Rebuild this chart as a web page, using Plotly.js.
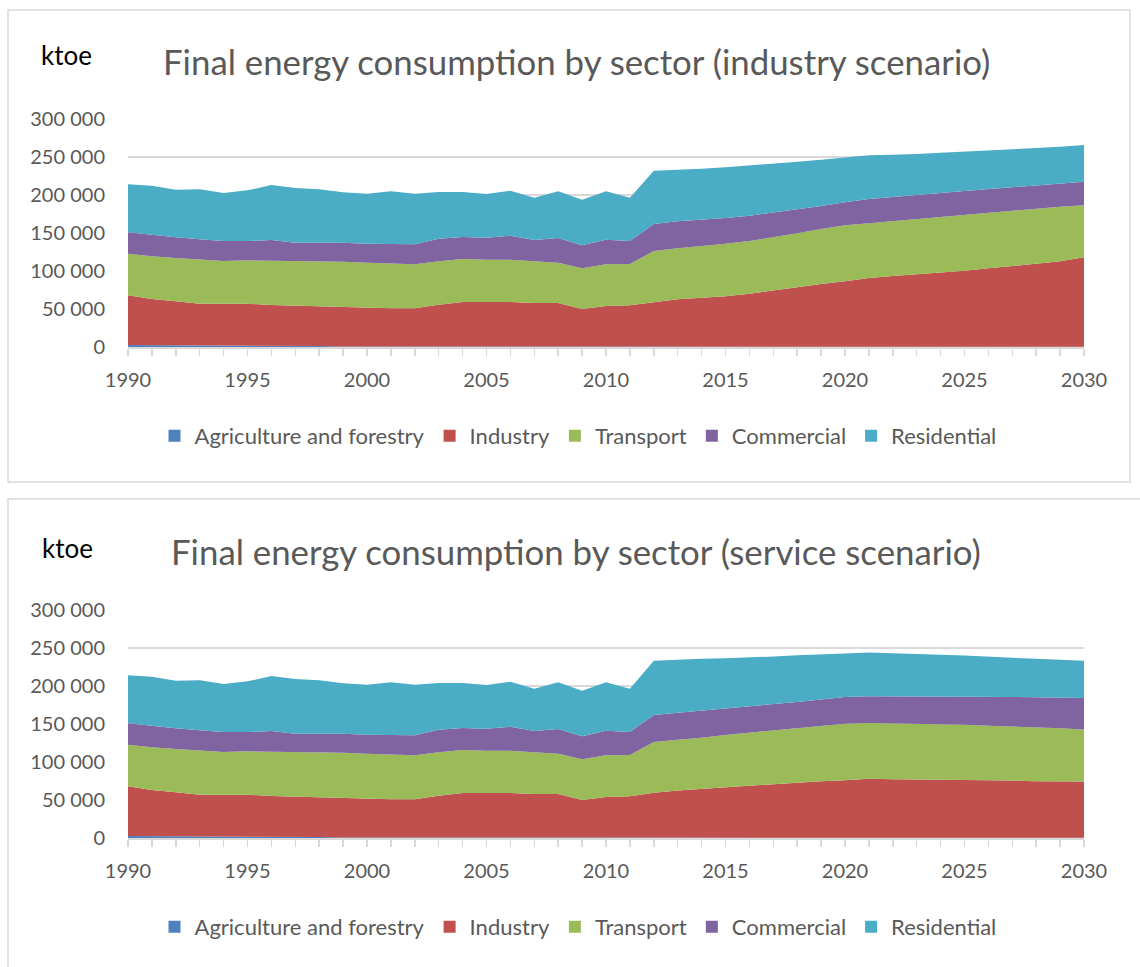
<!DOCTYPE html>
<html>
<head>
<meta charset="utf-8">
<script src="https://cdn.plot.ly/plotly-3.0.1.min.js"></script>
<style>
  html, body { margin: 0; padding: 0; background: #ffffff; }
  #chart { width: 1140px; height: 967px; }
</style>
</head>
<body>
<div id="chart"></div>
<script>
// ---- Data (ktoe) ----
const years = [1990,1991,1992,1993,1994,1995,1996,1997,1998,1999,2000,2001,2002,2003,2004,2005,2006,2007,2008,2009,2010,
               2011,2012,2013,2014,2015,2016,2017,2018,2019,2020,2021,2022,2023,2024,2025,2026,2027,2028,2029,2030];
const sectors = ["Agriculture and forestry", "Industry", "Transport", "Commercial", "Residential"];
const colors = ["#4F81BD", "#C0504D", "#9BBB59", "#8064A2", "#4BACC6"];

// Historical values 1990-2011 (shared by both scenarios)
const agriHist = [2600,2500,2300,1900,1800,1700,1600,1500,1300,600,500,500,500,500,500,500,500,500,500,500,500,500];
const industryHist = [65400,60700,57800,55100,55200,55300,53700,52900,52200,51200,50800,50400,50400,55200,58700,58700,58700,57400,57400,49500,53400,54300];
const transportHist = [54800,56100,57000,57900,56200,57000,58300,58300,59700,60500,59700,58800,57900,57000,56600,55700,55700,54800,53100,53500,54900,54400];
const commercialHist = [28100,28100,27200,26800,26300,25500,27200,24600,24100,25000,25000,25800,26300,29800,28900,29000,31600,28100,32400,30300,32400,30300];
const residentialHist = [63100,64900,62700,65800,63100,66600,72400,71900,70200,66200,65800,69300,66700,61500,59300,57400,59200,55700,61400,60100,63600,57000];

// Industry scenario projections 2012-2030
const agriInd = [900,900,800,400,400,400,400,400,400,400,400,400,400,400,400,400,400,400,400];
const industryInd = [58300,61800,64100,66300,69800,74200,78100,82500,86000,90400,93000,95200,97800,100000,103100,106200,108800,112300,117600];
const transportInd = [67100,67100,67600,69300,69300,69700,71100,72400,73700,71900,72000,72400,72900,73300,73300,72800,72800,71900,68400];
const commercialInd = [35500,35600,35000,33700,33300,32500,31500,30200,30200,32000,32000,31600,31500,31600,31100,31100,30700,30300,31100];
const residentialInd = [70200,68400,67200,66700,65800,64400,62800,61000,59300,57500,55700,54300,53100,51700,50400,49600,49100,48700,48300];

// Service scenario projections 2012-2030
const agriSrv = [900,900,800,400,400,400,400,400,400,400,400,400,400,400,400,400,400,400,400];
const industrySrv = [58500,61600,63900,66000,68200,70400,72200,74400,75700,77400,77000,76600,76600,76600,76100,75200,74400,74400,73900];
const transportSrv = [66800,66800,67200,69100,69900,70800,72100,73000,74300,73500,73500,73000,72500,72100,71300,71300,70800,69500,68600];
const commercialSrv = [35600,35600,35700,34700,34800,34800,34300,34300,35200,35200,35600,36500,37000,37400,38200,38700,39600,40400,41400];
const residentialSrv = [71300,70000,68100,66400,64200,62400,61600,59300,57200,57600,56300,55400,54500,53600,52400,51000,50500,49700,48800];

const titles = ["Final energy consumption by sector (industry scenario)",
                "Final energy consumption by sector (service scenario)"];
const unitLabel = "ktoe";
const yTicks = [0, 50000, 100000, 150000, 200000, 250000, 300000];
const xTicks = [1990, 1995, 2000, 2005, 2010, 2015, 2020, 2025, 2030];

// ---- Build ----
const W = 1140, H = 967;
const px = x => x / W;
const py = y => 1 - y / H;

const industryScenario = [
  agriHist.concat(agriInd), industryHist.concat(industryInd), transportHist.concat(transportInd),
  commercialHist.concat(commercialInd), residentialHist.concat(residentialInd)];
const serviceScenario = [
  agriHist.concat(agriSrv), industryHist.concat(industrySrv), transportHist.concat(transportSrv),
  commercialHist.concat(commercialSrv), residentialHist.concat(residentialSrv)];

const traces = [];
[industryScenario, serviceScenario].forEach((scen, k) => {
  scen.forEach((vals, i) => {
    traces.push({
      type: "scatter", mode: "lines", x: years, y: vals,
      name: sectors[i], stackgroup: k === 0 ? "top" : "bottom",
      xaxis: k === 0 ? "x" : "x2", yaxis: k === 0 ? "y" : "y2",
      line: { width: 0, color: colors[i] }, fillcolor: colors[i],
      showlegend: false, hoverinfo: "x+y+name"
    });
  });
  // legend-only entries with square swatches
  sectors.forEach((s, i) => {
    traces.push({
      type: "scatter", mode: "markers", x: [null], y: [null], name: s,
      xaxis: k === 0 ? "x" : "x2", yaxis: k === 0 ? "y" : "y2",
      marker: { symbol: "square", size: 12, color: colors[i] },
      legend: k === 0 ? "legend" : "legend2", showlegend: true
    });
  });
});

const FONT = "Lato, 'Open Sans', sans-serif";
const GREY = "#595959";
const GRID = "#d9d9d9";

function xAxis(anchor) {
  return {
    domain: [px(128), px(1084)], anchor: anchor, range: [1990, 2030],
    tickmode: "array", tickvals: xTicks, ticktext: xTicks.map(String),
    ticks: "outside", ticklen: 7, tickwidth: 1.5, tickcolor: GRID,
    minor: { dtick: 1, tick0: 1990, ticks: "outside", ticklen: 7, tickwidth: 1.5, tickcolor: GRID, showgrid: false },
    showline: true, linecolor: GRID, linewidth: 1.5,
    showgrid: false, zeroline: false, fixedrange: true,
    tickfont: { family: FONT, size: 20, color: GREY }, ticklabelstandoff: 7
  };
}
function yAxis(anchor, top, bottom) {
  return {
    domain: [py(bottom), py(top)], anchor: anchor, range: [0, 300000],
    tickmode: "array", tickvals: yTicks, tickformat: ",d",
    showgrid: true, gridcolor: GRID, gridwidth: 1.5,
    zeroline: false, showline: false, ticks: "", fixedrange: true,
    tickfont: { family: FONT, size: 20, color: GREY }, ticklabelstandoff: 22
  };
}

const legendBase = {
  orientation: "h", xanchor: "center", yanchor: "middle", traceorder: "normal",
  font: { family: FONT, size: 22, color: GREY },
  bgcolor: "rgba(0,0,0,0)", itemclick: false, itemdoubleclick: false
};

const layout = {
  width: W, height: H,
  margin: { l: 0, r: 0, t: 0, b: 0 },
  paper_bgcolor: "#ffffff", plot_bgcolor: "#ffffff",
  separators: ". ",
  font: { family: FONT, color: GREY },
  xaxis: xAxis("y"), yaxis: yAxis("x", 119, 347),
  xaxis2: xAxis("y2"), yaxis2: yAxis("x2", 610, 838),
  legend: Object.assign({}, legendBase, { x: px(578), y: py(436) }),
  legend2: Object.assign({}, legendBase, { x: px(578), y: py(927) }),
  showlegend: true,
  annotations: [
    { text: titles[0], xref: "paper", yref: "paper", x: px(576), y: py(62), xanchor: "center", yanchor: "middle",
      showarrow: false, font: { family: FONT, size: 34.8, color: GREY } },
    { text: titles[1], xref: "paper", yref: "paper", x: px(576), y: py(551), xanchor: "center", yanchor: "middle",
      showarrow: false, font: { family: FONT, size: 34.8, color: GREY } },
    { text: unitLabel, xref: "paper", yref: "paper", x: px(66), y: py(55), xanchor: "center", yanchor: "middle",
      showarrow: false, font: { family: FONT, size: 26, color: "#000000" } },
    { text: unitLabel, xref: "paper", yref: "paper", x: px(67), y: py(548), xanchor: "center", yanchor: "middle",
      showarrow: false, font: { family: FONT, size: 26, color: "#000000" } }
  ],
  shapes: [
    { type: "rect", xref: "paper", yref: "paper", x0: px(8), x1: px(1130), y0: py(482), y1: py(10),
      line: { color: GRID, width: 1.5 }, fillcolor: "rgba(0,0,0,0)", layer: "below" },
    { type: "rect", xref: "paper", yref: "paper", x0: px(8), x1: px(1150), y0: py(980), y1: py(499),
      line: { color: GRID, width: 1.5 }, fillcolor: "rgba(0,0,0,0)", layer: "below" }
  ]
};

Plotly.newPlot("chart", traces, layout, { displayModeBar: false, staticPlot: true });
</script>
</body>
</html>
